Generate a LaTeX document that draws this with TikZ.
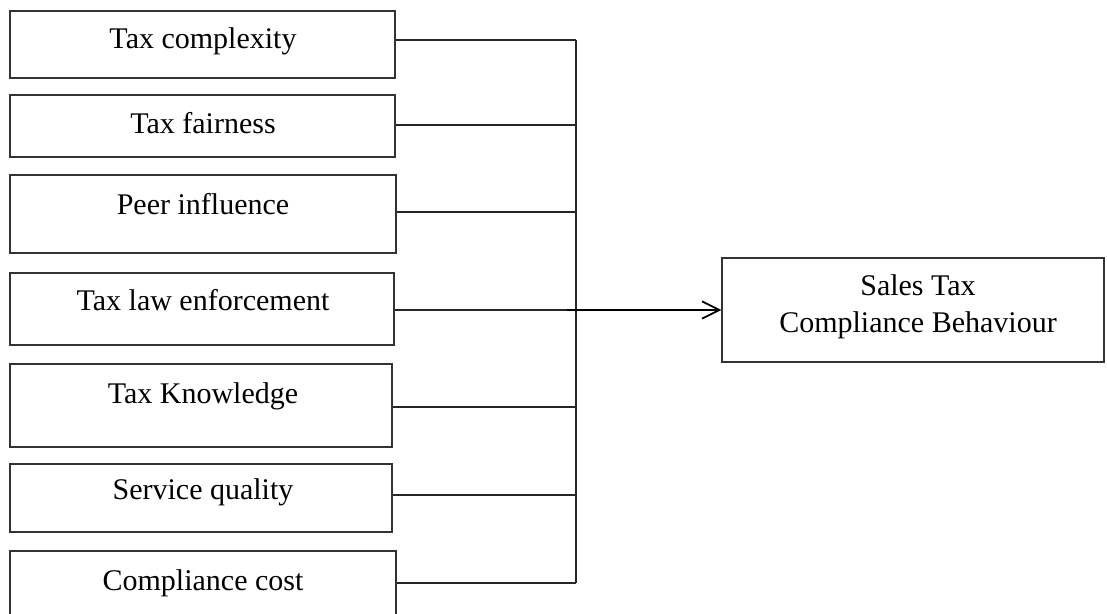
\documentclass[tikz,border=0pt]{standalone}
\usepackage{fontspec}
\setmainfont{Liberation Serif}
\usetikzlibrary{fit,arrows.meta}

\begin{document}
\begin{tikzpicture}[x=0.75pt,y=-0.75pt,
    factorbox/.style={draw=black!80, line width=1.1pt, rectangle, inner sep=0pt},
    lbl/.style={font=\fontsize{22.5}{27.75}\selectfont, inner sep=0pt, anchor=base, align=center},
    link/.style={draw=black!85, line width=1pt},
    mainarrow/.style={draw=black, line width=1.5pt, -{Straight Barb[length=13pt,width=13pt,line width=1.3pt]}}]

  \clip (0,0) rectangle (1107,614);

  % predictor boxes
  \node[factorbox, fit={(10,11) (395,78)}]  (b1) {};
  \node[factorbox, fit={(10,95) (395,157)}] (b2) {};
  \node[factorbox, fit={(10,175) (396,253)}] (b3) {};
  \node[factorbox, fit={(10,273) (394,345)}] (b4) {};
  \node[factorbox, fit={(10,364) (392,447)}] (b5) {};
  \node[factorbox, fit={(10,464) (392,532)}] (b6) {};
  \node[factorbox, fit={(10,551) (396,625)}] (b7) {};

  % predictor labels
  \node[lbl] (t1) at (203,48)  {Tax complexity};
  \node[lbl] (t2) at (203,133) {Tax fairness};
  \node[lbl] (t3) at (203,214) {Peer influence};
  \node[lbl] (t4) at (203,310) {Tax law enforcement};
  \node[lbl] (t5) at (203,403) {Tax Knowledge};
  \node[lbl] (t6) at (203,499) {Service quality};
  \node[lbl] (t7) at (203,590) {Compliance cost};

  % outcome box (base anchor sits on the last line)
  \node[factorbox, fit={(722,258) (1104,362)}] (out) {};
  \node[lbl] (tout) at (918,332) {Sales Tax\\Compliance Behaviour};

  % junction points on the collecting bar
  \coordinate (j1) at (576,40);
  \coordinate (j2) at (576,125);
  \coordinate (j3) at (576,212);
  \coordinate (j4) at (576,310);
  \coordinate (j5) at (576,407);
  \coordinate (j6) at (576,495);
  \coordinate (j7) at (576,583);
  \coordinate (a0) at (567,310);

  % connectors
  \foreach \i in {1,...,7} {
    \draw[link] (b\i.east |- j\i) -- (j\i);
  }
  \draw[link] (j1) -- (j7);
  \draw[mainarrow] (a0) -- (out.west |- a0);
\end{tikzpicture}
\end{document}
